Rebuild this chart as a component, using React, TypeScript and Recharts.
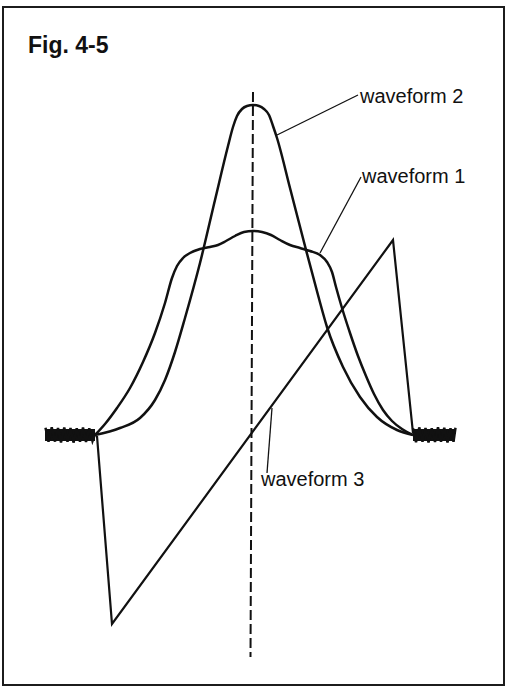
import React from 'react';
import { LineChart, Line, XAxis, YAxis, ReferenceDot } from 'recharts';

// time (t) vs amplitude (a); baseline is a = 0, centre line at t = 0
const waveform1 = [
  { t: -6.32, a: 0 }, { t: -5.92, a: 0.55 }, { t: -5.44, a: 1.35 }, { t: -4.92, a: 2.35 },
  { t: -4.4, a: 3.65 }, { t: -3.92, a: 5.1 }, { t: -3.52, a: 6.6 }, { t: -3.24, a: 7.85 },
  { t: -3.04, a: 8.45 }, { t: -2.8, a: 8.85 }, { t: -2.52, a: 9.1 }, { t: -2.12, a: 9.3 },
  { t: -1.72, a: 9.4 }, { t: -1.4, a: 9.5 }, { t: -1.08, a: 9.7 }, { t: -0.72, a: 9.95 },
  { t: -0.36, a: 10.15 }, { t: 0, a: 10.2 }, { t: 0.36, a: 10.15 }, { t: 0.72, a: 10.0 },
  { t: 1.08, a: 9.75 }, { t: 1.48, a: 9.5 }, { t: 1.88, a: 9.35 }, { t: 2.28, a: 9.2 },
  { t: 2.68, a: 9.0 }, { t: 2.96, a: 8.65 }, { t: 3.16, a: 8.15 }, { t: 3.32, a: 7.4 },
  { t: 3.56, a: 6.35 }, { t: 3.88, a: 5.1 }, { t: 4.2, a: 3.95 }, { t: 4.52, a: 2.95 },
  { t: 4.84, a: 2.05 }, { t: 5.2, a: 1.25 }, { t: 5.56, a: 0.7 }, { t: 5.96, a: 0.3 },
  { t: 6.4, a: 0 },
];

const waveform2 = [
  { t: -6.32, a: 0 }, { t: -5.32, a: 0.35 }, { t: -4.52, a: 0.85 }, { t: -3.92, a: 1.75 },
  { t: -3.52, a: 2.75 }, { t: -3.12, a: 4.15 }, { t: -2.72, a: 5.85 }, { t: -2.12, a: 8.6 },
  { t: -1.52, a: 11.75 }, { t: -1.0, a: 14.45 }, { t: -0.8, a: 15.4 }, { t: -0.64, a: 15.95 },
  { t: -0.44, a: 16.3 }, { t: -0.24, a: 16.45 }, { t: 0, a: 16.5 }, { t: 0.24, a: 16.45 },
  { t: 0.44, a: 16.3 }, { t: 0.64, a: 16.0 }, { t: 0.8, a: 15.45 }, { t: 0.96, a: 14.85 },
  { t: 1.48, a: 12.35 }, { t: 2.08, a: 9.45 }, { t: 2.6, a: 7.0 }, { t: 2.96, a: 5.4 },
  { t: 3.6, a: 3.4 }, { t: 4.28, a: 1.9 }, { t: 4.96, a: 0.9 }, { t: 5.76, a: 0.25 },
  { t: 6.4, a: 0 },
];

const waveform3 = [
  { t: -6.24, a: -0.05 }, { t: -5.64, a: -9.45 }, { t: 5.6, a: 9.75 }, { t: 6.4, a: 0.1 },
];

const noiseLeft = [
  { t: -8.3, a: 0.36 }, { t: -8.18, a: -0.34 }, { t: -8.05, a: 0.38 }, { t: -7.92, a: -0.33 },
  { t: -7.8, a: 0.35 }, { t: -7.68, a: -0.37 }, { t: -7.55, a: 0.37 }, { t: -7.42, a: -0.34 },
  { t: -7.3, a: 0.35 }, { t: -7.18, a: -0.38 }, { t: -7.05, a: 0.34 }, { t: -6.92, a: -0.34 },
  { t: -6.8, a: 0.37 }, { t: -6.68, a: -0.35 }, { t: -6.55, a: 0.34 }, { t: -6.42, a: -0.3 },
  { t: -6.3, a: 0.1 },
];

const noiseRight = [
  { t: 6.4, a: 0.34 }, { t: 6.52, a: -0.36 }, { t: 6.65, a: 0.38 }, { t: 6.78, a: -0.34 },
  { t: 6.9, a: 0.35 }, { t: 7.02, a: -0.37 }, { t: 7.15, a: 0.34 }, { t: 7.28, a: -0.35 },
  { t: 7.4, a: 0.39 }, { t: 7.52, a: -0.34 }, { t: 7.65, a: 0.36 }, { t: 7.78, a: -0.38 },
  { t: 7.9, a: 0.34 }, { t: 8.02, a: -0.34 }, { t: 8.1, a: 0.36 },
];

const noiseBarLeft = [{ t: -8.32, a: 0 }, { t: -6.32, a: 0 }];
const noiseBarRight = [{ t: 6.4, a: 0 }, { t: 8.08, a: 0 }];

const centreLine = [{ t: 0, a: 17.15 }, { t: -0.1, a: -11.1 }];

const leader1 = [{ t: 2.68, a: 9.1 }, { t: 4.32, a: 12.9 }];
const leader2 = [{ t: 0.96, a: 15.0 }, { t: 4.2, a: 17.0 }];
const leader3 = [{ t: 0.76, a: 1.35 }, { t: 0.56, a: -1.9 }];

const labels = [
  { t: 4.28, a: 16.6, text: 'waveform 2' },
  { t: 4.36, a: 12.6, text: 'waveform 1' },
  { t: 0.32, a: -2.55, text: 'waveform 3' },
];

const title = { t: -9.0, a: 19.1, text: 'Fig. 4-5' };

const textAt = (text: string, size: number, weight: number) => (props: any) => {
  const vb = props.viewBox || {};
  return (
    <text
      x={vb.x}
      y={vb.y}
      fontSize={size}
      fontWeight={weight}
      fontFamily="'Liberation Sans', Arial, sans-serif"
      fill="#111"
      textAnchor="start"
    >
      {text}
    </text>
  );
};

const ink = '#111';

export default function App() {
  return (
    <div style={{ position: 'absolute', left: 0, top: 0, width: 505, height: 693, background: '#fff' }}>
      <div
        style={{
          position: 'absolute',
          left: 2,
          top: 6,
          width: 499,
          height: 676,
          border: '2px solid #1c1c1c',
        }}
      />
      <div style={{ position: 'absolute', left: 0, top: 0 }}>
        <LineChart width={505} height={693} margin={{ top: 5, right: 2, bottom: 8, left: 3 }}>
          <XAxis type="number" dataKey="t" domain={[-10, 10]} allowDataOverflow hide />
          <YAxis type="number" domain={[-12.5, 21.5]} allowDataOverflow hide />

          <Line data={noiseBarLeft} dataKey="a" type="linear" stroke={ink} strokeWidth={12} dot={false} activeDot={false} isAnimationActive={false} />
          <Line data={noiseBarRight} dataKey="a" type="linear" stroke={ink} strokeWidth={12} dot={false} activeDot={false} isAnimationActive={false} />
          <Line data={noiseLeft} dataKey="a" type="linear" stroke={ink} strokeWidth={2.5} dot={false} activeDot={false} isAnimationActive={false} />
          <Line data={noiseRight} dataKey="a" type="linear" stroke={ink} strokeWidth={2.5} dot={false} activeDot={false} isAnimationActive={false} />

          <Line data={centreLine} dataKey="a" type="linear" stroke={ink} strokeWidth={2} strokeDasharray="10 4" dot={false} activeDot={false} isAnimationActive={false} />

          <Line data={waveform1} dataKey="a" type="monotone" stroke={ink} strokeWidth={2.5} dot={false} activeDot={false} isAnimationActive={false} />
          <Line data={waveform2} dataKey="a" type="monotone" stroke={ink} strokeWidth={2.5} dot={false} activeDot={false} isAnimationActive={false} />
          <Line data={waveform3} dataKey="a" type="linear" stroke={ink} strokeWidth={2.2} dot={false} activeDot={false} isAnimationActive={false} />

          <Line data={leader1} dataKey="a" type="linear" stroke={ink} strokeWidth={1.3} dot={false} activeDot={false} isAnimationActive={false} />
          <Line data={leader2} dataKey="a" type="linear" stroke={ink} strokeWidth={1.3} dot={false} activeDot={false} isAnimationActive={false} />
          <Line data={leader3} dataKey="a" type="linear" stroke={ink} strokeWidth={1.3} dot={false} activeDot={false} isAnimationActive={false} />

          {labels.map((l) => (
            <ReferenceDot key={l.text} x={l.t} y={l.a} r={0} stroke="none" fill="none" label={textAt(l.text, 20, 400)} />
          ))}
          <ReferenceDot x={title.t} y={title.a} r={0} stroke="none" fill="none" label={textAt(title.text, 23, 700)} />
        </LineChart>
      </div>
    </div>
  );
}
